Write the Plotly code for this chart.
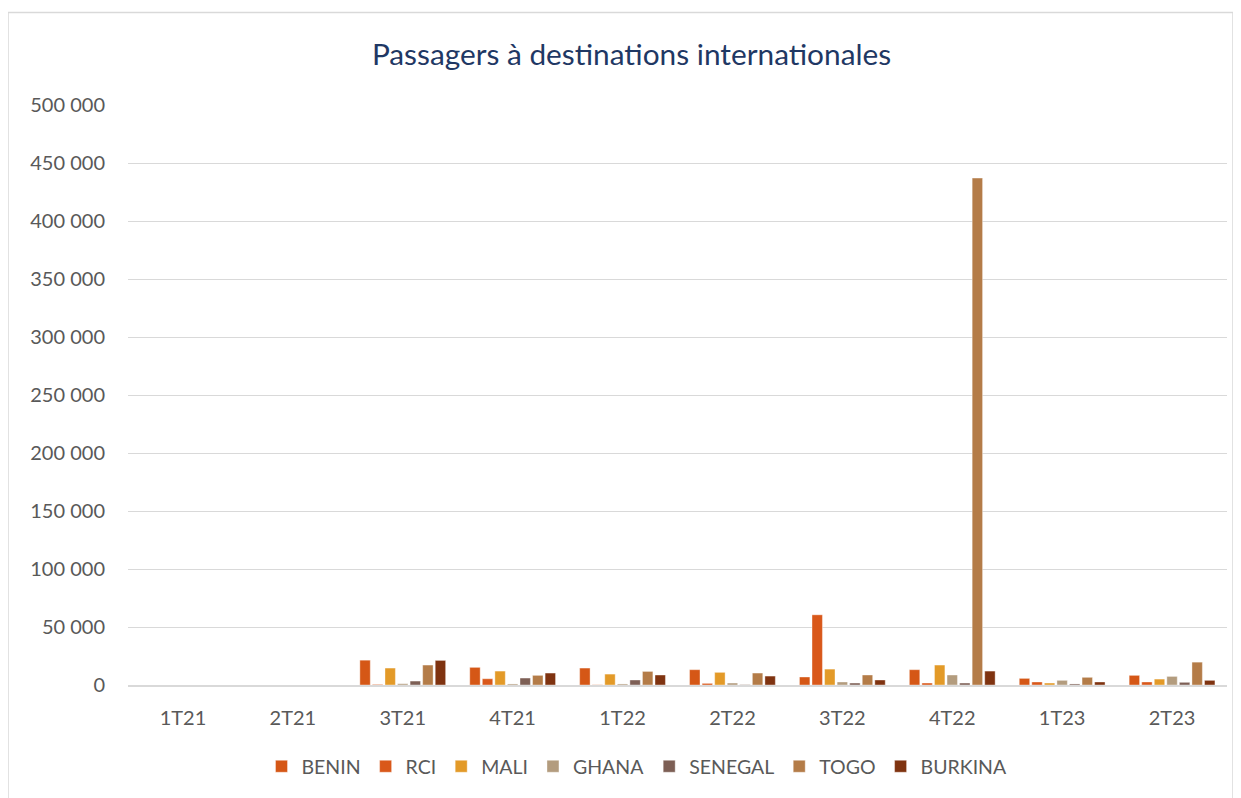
import plotly.graph_objects as go

quarters = ["1T21", "2T21", "3T21", "4T21", "1T22", "2T22", "3T22", "4T22", "1T23", "2T23"]
benin   = [0, 0, 21400, 15200, 14600, 13200, 6900, 13200, 5700, 8300]
rci     = [0, 0, 500, 5400, 200, 1400, 60500, 1700, 2600, 2600]
mali    = [0, 0, 14600, 12000, 9400, 10900, 13700, 17200, 1700, 5100]
ghana   = [0, 0, 1100, 900, 900, 1700, 2600, 8600, 4000, 7400]
senegal = [0, 0, 3400, 6000, 4300, 300, 1700, 1700, 900, 2300]
togo    = [0, 0, 17200, 8300, 11700, 10300, 8600, 437000, 6600, 19700]
burkina = [0, 0, 21200, 10300, 8600, 7700, 4300, 12000, 2600, 4000]

series = [
    ("BENIN", benin, "#D55716"),
    ("RCI", rci, "#D9581A"),
    ("MALI", mali, "#E39A28"),
    ("GHANA", ghana, "#B39C7E"),
    ("SENEGAL", senegal, "#7D5F55"),
    ("TOGO", togo, "#B47C48"),
    ("BURKINA", burkina, "#7F3310"),
]

FONT = "Lato"
fig = go.Figure()
for name, vals, col in series:
    fig.add_trace(go.Bar(
        x=quarters, y=vals, name=name,
        marker=dict(color=col, line=dict(color="rgba(255,255,255,0.55)", width=0.7)),
    ))

# page body has an 8px margin
W, H = 1233, 790
L, R, T, B = 120, 14, 97, 110
pw = W - L - R
ph = H - T - B

fig.update_layout(
    width=W, height=H,
    margin=dict(l=L, r=R, t=T, b=B),
    paper_bgcolor="white", plot_bgcolor="white",
    barmode="group", bargap=0.2, bargroupgap=0.17,
    separators=", ",
    font=dict(family=FONT, color="#595959", size=20),
    title=dict(text="Passagers à destinations internationales", x=(631.5 - 8) / W, xanchor="center",
               y=1 - 47 / H, yanchor="middle",
               font=dict(family=FONT, size=29.8, color="#1F3864")),
    showlegend=True,
    legend=dict(orientation="h", x=(629 - L) / pw, xanchor="center", y=-(762 - (T + ph)) / ph,
                yanchor="middle",
                font=dict(family=FONT, size=19.5, color="#595959"), itemwidth=30, traceorder="normal"),
    xaxis=dict(showgrid=False, showline=True, linecolor="#D9D9D9", linewidth=1.5,
               ticks="", ticklabelstandoff=14, tickfont=dict(size=20, color="#595959")),
    yaxis=dict(range=[0, 500000], dtick=50000, tickformat=",d", showgrid=True,
               gridcolor="#D9D9D9", gridwidth=1.2, zeroline=False, showline=False,
               ticks="", ticklabelstandoff=22, tickfont=dict(size=20, color="#595959")),
    shapes=[dict(type="rect", xref="paper", yref="paper",
                 x0=(0 - L) / pw, x1=(1225 - L) / pw,
                 y0=-(H + 10 - T - ph) / ph, y1=(T + ph - 4) / ph,
                 line=dict(color="#D9D9D9", width=1.5), fillcolor="rgba(0,0,0,0)", layer="below")],
)

fig.write_html("out.html")
